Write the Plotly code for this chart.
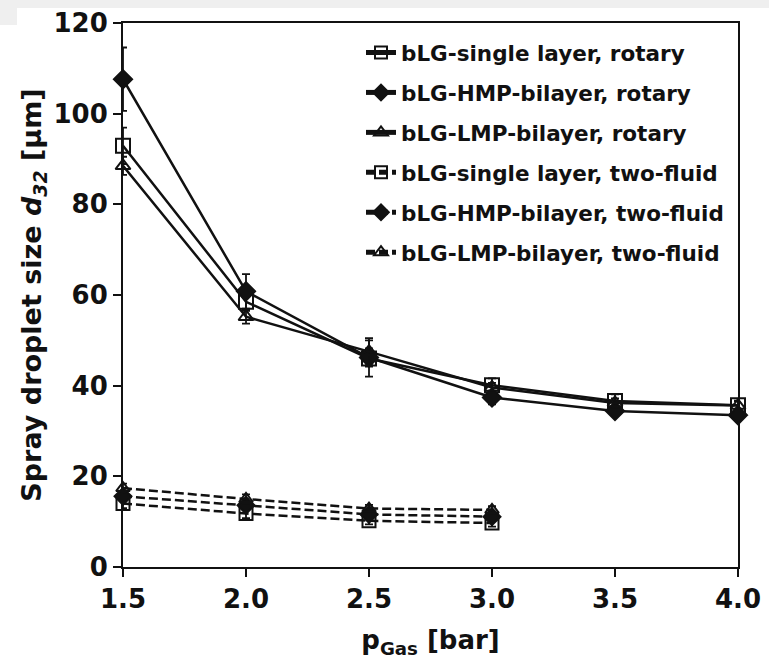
import plotly.graph_objects as go

# ---------------- data ----------------
p_rotary = [1.5, 2.0, 2.5, 3.0, 3.5, 4.0]
p_twofluid = [1.5, 2.0, 2.5, 3.0]

single_rotary = [92.9, 58.5, 46.0, 40.1, 36.6, 35.7]
single_rotary_err = [4.0, 2.0, 4.0, 1.5, 1.5, 1.0]
hmp_rotary = [107.6, 60.8, 46.2, 37.4, 34.4, 33.5]
hmp_rotary_err = [7.0, 3.8, 2.0, 1.5, 1.0, 1.0]
lmp_rotary = [88.5, 55.2, 47.5, 39.6, 36.2, 35.6]
lmp_rotary_err = [2.0, 1.5, 3.0, 1.0, 1.0, 1.0]

single_tf = [14.0, 11.8, 10.2, 9.7]
single_tf_err = [1.0, 1.0, 0.8, 0.8]
hmp_tf = [15.6, 13.6, 11.6, 11.1]
hmp_tf_err = [1.0, 1.0, 0.8, 0.8]
lmp_tf = [17.4, 15.0, 12.9, 12.6]
lmp_tf_err = [1.0, 1.0, 0.8, 0.8]

names = [
    "bLG-single layer, rotary",
    "bLG-HMP-bilayer, rotary",
    "bLG-LMP-bilayer, rotary",
    "bLG-single layer, two-fluid",
    "bLG-HMP-bilayer, two-fluid",
    "bLG-LMP-bilayer, two-fluid",
]

x_ticks = [1.5, 2.0, 2.5, 3.0, 3.5, 4.0]
y_ticks = [0, 20, 40, 60, 80, 100, 120]

# ---------------- figure ----------------
FONT = "DejaVu Sans"
BLACK = "#111111"

series = [
    (p_rotary, single_rotary, single_rotary_err, names[0], "square-open", 14, "solid"),
    (p_rotary, hmp_rotary, hmp_rotary_err, names[1], "diamond", 14, "solid"),
    (p_rotary, lmp_rotary, lmp_rotary_err, names[2], "triangle-up-open", 13, "solid"),
    (p_twofluid, single_tf, single_tf_err, names[3], "square-open", 13, "9px,4px"),
    (p_twofluid, hmp_tf, hmp_tf_err, names[4], "diamond", 13, "9px,4px"),
    (p_twofluid, lmp_tf, lmp_tf_err, names[5], "triangle-up-open", 12, "9px,4px"),
]

fig = go.Figure()
for i, (xs, ys, es, nm, sym, sz, dash) in enumerate(series):
    fig.add_trace(go.Scatter(
        x=xs, y=ys, name=nm, mode="lines+markers",
        legendgroup=str(i),
        line=dict(color=BLACK, width=2.5, dash=dash),
        marker=dict(symbol=sym, size=sz, color=BLACK,
                    line=dict(color=BLACK, width=2)),
        error_y=dict(type="data", array=es, visible=True,
                     color=BLACK, thickness=1.8, width=4),
        cliponaxis=False,
    ))

# light-grey screenshot border at the top
fig.add_shape(type="rect", xref="paper", yref="paper",
              x0=-0.25, x1=1.1, y0=(567 - 8) / 544, y1=1.1,
              fillcolor="#efefef", line=dict(width=0), layer="below")
fig.add_shape(type="rect", xref="paper", yref="paper",
              x0=-0.25, x1=(17 - 123) / 615, y0=(567 - 25) / 544, y1=1.1,
              fillcolor="#efefef", line=dict(width=0), layer="below")

fig.update_layout(
    width=769, height=663,
    margin=dict(l=123, r=31, t=23, b=96, autoexpand=False),
    paper_bgcolor="white", plot_bgcolor="white",
    font=dict(family=FONT, color=BLACK),
    showlegend=True,
    legend=dict(
        x=(361 - 123) / 615, y=(567 - 32) / 544,
        xanchor="left", yanchor="top",
        bgcolor="rgba(0,0,0,0)", borderwidth=0,
        font=dict(family=FONT, size=21.5, color=BLACK, weight="bold"),
        tracegroupgap=9, traceorder="grouped",
        itemsizing="constant",
    ),
)

fig.update_xaxes(
    range=[1.5, 4.0], tickvals=x_ticks, ticktext=[f"{v:.1f}" for v in x_ticks],
    showgrid=False, zeroline=False,
    showline=True, linecolor=BLACK, linewidth=2, mirror=True,
    ticks="outside", ticklen=8, tickwidth=2, tickcolor=BLACK,
    tickfont=dict(family=FONT, size=26, color=BLACK, weight="bold"),
    title=dict(text="p<sub>Gas</sub> [bar]", standoff=18,
               font=dict(family=FONT, size=26, color=BLACK, weight="bold")),
)
fig.update_yaxes(
    range=[0, 120], tickvals=y_ticks,
    showgrid=False, zeroline=False,
    showline=True, linecolor=BLACK, linewidth=2, mirror=True,
    ticks="outside", ticklen=8, tickwidth=2, tickcolor=BLACK,
    tickfont=dict(family=FONT, size=26, color=BLACK, weight="bold"),
    title=dict(text="Spray droplet size <i>d</i><sub><i>32</i></sub> [µm]", standoff=4,
               font=dict(family=FONT, size=27, color=BLACK, weight="bold")),
)

fig.write_html("out.html",
               config={"displayModeBar": False},
               post_script="document.body.style.margin='0px';document.body.style.overflow='hidden';")
